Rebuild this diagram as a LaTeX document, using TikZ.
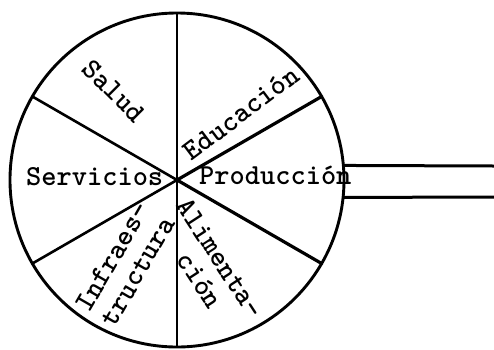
\documentclass[tikz,border=0pt]{standalone}
\begin{document}
\begin{tikzpicture}[x=1pt,y=1pt,
  lbl/.style={font=\fontsize{29}{29}\selectfont\ttfamily\bfseries, inner sep=0pt, align=left},
  spoke/.style={line width=2.6pt, line cap=round},
  thinspoke/.style={line width=1.7pt},
  heavyspoke/.style={line width=3.2pt, line cap=round},
  bar/.style={line width=3pt}]
\useasboundingbox (-177,-169) rectangle (317,180);
\fill[white] (-177,-169) rectangle (317,180);
\coordinate (c) at (0,0);
\node[circle, draw, line width=2.9pt, minimum size=334pt, inner sep=0pt, outer sep=0pt] (wheel) at (c) {};
\draw[thinspoke] (wheel.90) -- (wheel.270);
\draw[spoke] (c) -- (wheel.150);
\draw[spoke] (c) -- (wheel.210);
\draw[heavyspoke] (c) -- (wheel.30);
\draw[heavyspoke] (c) -- (wheel.330);
\coordinate (e1) at (317,14);
\coordinate (e2) at (317,-17);
\draw[bar] (wheel.5) -- (e1);
\draw[bar] (wheel.-6) -- (e2);
\node[lbl, anchor=base west] (serv) at (-151,-5) {Servicios};
\node[lbl, anchor=base west] (prod) at (22,-4) {Producción};
\node[lbl, rotate=-45] (salud) at (-63,89) {Salud};
\node[lbl, rotate=37] (edu) at (64,67) {Educación};
\node[lbl, rotate=-57] (alim) at (31,-86) {Alimenta-\\\phantom{Ali}ción};
\node[lbl, rotate=60] (infra) at (-52,-84) {Infraes-\\tructura};
\end{tikzpicture}
\end{document}
